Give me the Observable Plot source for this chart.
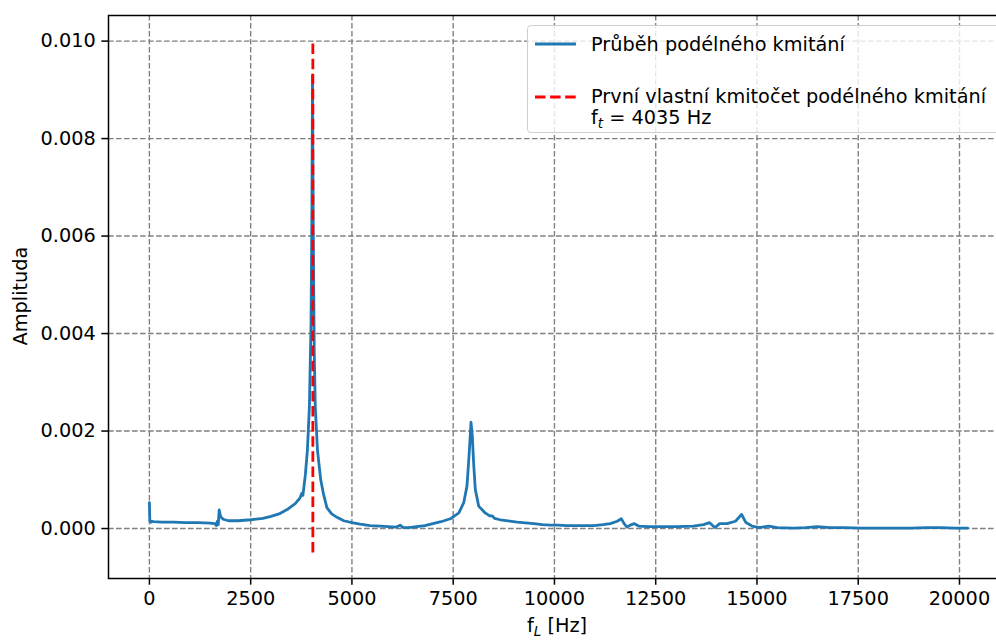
<!DOCTYPE html>
<html>
<head>
<meta charset="utf-8">
<script src="https://cdn.jsdelivr.net/npm/d3@7"></script>
<script src="https://cdn.jsdelivr.net/npm/@observablehq/plot@0.6"></script>
<style>
  html, body { margin: 0; padding: 0; background: #fff; overflow: hidden; }
  #wrap { position: relative; width: 1010px; height: 640px; font-family: "DejaVu Sans", sans-serif; }
  #legend { position: absolute; left: 527px; top: 25px; width: 478px; height: 108px;
    background: rgba(255,255,255,0.8); border: 1.3px solid #cfcfcf; border-radius: 4px; box-sizing: border-box; }
  #legend svg { position: absolute; left: 0; top: 0; overflow: visible; }
</style>
</head>
<body>
<div id="wrap"></div>
<script>
// Frequency [Hz]
const freq = [0,10,40,60,100,300,600,900,1200,1500,1620,1650,1680,1700,1722,1760,1820,1950,2200,2500,2800,3000,3200,3400,3600,3720,3760,3790,3850,3900,3950,3990,4010,4027,4045,4070,4095,4150,4230,4300,4382,4500,4630,4800,5000,5200,5450,5700,5900,6100,6190,6260,6400,6600,6800,7000,7200,7430,7640,7760,7840,7880,7915,7940,7972,8004,8046,8130,8290,8400,8460,8520,8660,9080,9490,9700,9900,10100,10300,10600,10970,11200,11380,11550,11650,11720,11790,11870,11970,12080,12300,12500,13030,13430,13680,13830,13960,14080,14260,14470,14620,14720,14880,15050,15290,15500,15910,16200,16490,16800,17150,17600,17970,18400,18790,19200,19530,19900,20200];
// Amplitude
const amp = [0.00053,0.00016,0.00013,0.00015,0.00014,0.00013,0.00013,0.00012,0.00012,0.00011,0.0001,0.00006,0.00015,0.00008,0.00038,0.00024,0.00019,0.00016,0.00016,0.00018,0.00021,0.00025,0.0003,0.00039,0.00051,0.00063,0.00072,0.00068,0.0011,0.0016,0.0025,0.0042,0.0063,0.0093,0.0061,0.0036,0.0025,0.0016,0.001,0.0007,0.00043,0.0003,0.00023,0.00016,0.00012,0.00009,0.00006,0.00005,0.00004,0.00003,0.00007,0.00002,0.00002,0.00004,0.00006,0.0001,0.00014,0.0002,0.00032,0.00053,0.00087,0.00135,0.00182,0.00218,0.0019,0.00135,0.0008,0.00046,0.00032,0.00026,0.00026,0.00021,0.00018,0.00013,0.0001,0.00008,0.00007,0.00007,0.00006,0.00006,0.00006,0.00008,0.0001,0.00015,0.0002,0.0001,0.00003,0.00007,0.0001,0.00005,0.00004,0.00004,0.00004,0.00005,0.00008,0.00012,0.00002,0.0001,0.0001,0.00015,0.00029,0.00013,0.00005,0.00002,0.00005,0.00002,0.00001,0.00002,0.00004,0.00002,0.00002,0.00001,0.00001,0.00001,0.00001,0.00002,0.00002,0.00001,0.00001];
const fNat = 4035;
const vlineRange = [-0.0005, 0.010];
const xTicks = [0,2500,5000,7500,10000,12500,15000,17500,20000];
const yTicks = [0.000,0.002,0.004,0.006,0.008,0.010];
const seriesLabel = "Průběh podélného kmitání";
const vlineLabel = "První vlastní kmitočet podélného kmitání";

const data = freq.map((f, i) => ({f, a: amp[i]}));
const grid = {stroke: "#808080", strokeOpacity: 1, strokeWidth: 1.4, strokeDasharray: "5.6,2.4"};

const chart = Plot.plot({
  width: 1010, height: 640,
  marginTop: 15, marginBottom: 62, marginLeft: 108, marginRight: 2,
  style: {fontFamily: "DejaVu Sans, sans-serif", fontSize: "19px", color: "#000", background: "#fff"},
  x: {domain: [-1010, 21210]},
  y: {domain: [-0.001025, 0.010525]},
  marks: [
    Plot.gridX(xTicks, grid),
    Plot.gridY(yTicks, grid),
    Plot.line(data, {x: "f", y: "a", stroke: "#1f77b4", strokeWidth: 2.8}),
    Plot.ruleX([fNat], {y1: vlineRange[0], y2: vlineRange[1], stroke: "red", strokeWidth: 2.8, strokeDasharray: "10.5,4.6"}),
    Plot.frame({stroke: "#000", strokeWidth: 1.5}),
    Plot.axisX(xTicks, {tickSize: 6.7, tickPadding: 6, strokeWidth: 1.5, label: null, tickFormat: d => String(d), fontSize: 19.3}),
    Plot.axisY(yTicks, {tickSize: 6.7, tickPadding: 6, strokeWidth: 1.5, label: null, tickFormat: d3.format(".3f"), fontSize: 19.3})
  ]
});
const wrap = document.getElementById("wrap");
wrap.appendChild(chart);

// axis labels with subscripts
const svg = d3.select(chart);
const xl = svg.append("text").attr("x", 557).attr("y", 632).attr("text-anchor", "middle")
  .attr("font-family", "DejaVu Sans, sans-serif").attr("font-size", 19.3).attr("fill", "#000");
xl.append("tspan").text("f");
xl.append("tspan").attr("font-style", "italic").attr("font-size", 13.5).attr("dy", 3.5).text("L");
xl.append("tspan").attr("dy", -3.5).text(" [Hz]");
svg.append("text").attr("transform", "translate(27,296) rotate(-90)").attr("text-anchor", "middle")
  .attr("font-family", "DejaVu Sans, sans-serif").attr("font-size", 19.3).attr("fill", "#000").text("Amplituda");

// legend overlay
const leg = document.createElement("div");
leg.id = "legend";
wrap.appendChild(leg);
const ls = d3.select(leg).append("svg").attr("width", 478).attr("height", 108);
const tx = {"font-family": "DejaVu Sans, sans-serif", "font-size": 19.3, "fill": "#000"};
function txt(x, y) { const t = ls.append("text").attr("x", x).attr("y", y); for (const k in tx) t.attr(k, tx[k]); return t; }
ls.append("line").attr("x1", 7).attr("x2", 48).attr("y1", 18).attr("y2", 18).attr("stroke", "#1f77b4").attr("stroke-width", 2.8);
txt(63, 25).text(seriesLabel);
ls.append("line").attr("x1", 7).attr("x2", 48).attr("y1", 71).attr("y2", 71).attr("stroke", "red").attr("stroke-width", 2.8).attr("stroke-dasharray", "10.5,4.6");
txt(63, 77).text(vlineLabel);
const l2 = txt(63, 98);
l2.append("tspan").text("f");
l2.append("tspan").attr("font-style", "italic").attr("font-size", 13.5).attr("dy", 4).text("t");
l2.append("tspan").attr("dy", -4).text(" = " + fNat + " Hz");
</script>
</body>
</html>
